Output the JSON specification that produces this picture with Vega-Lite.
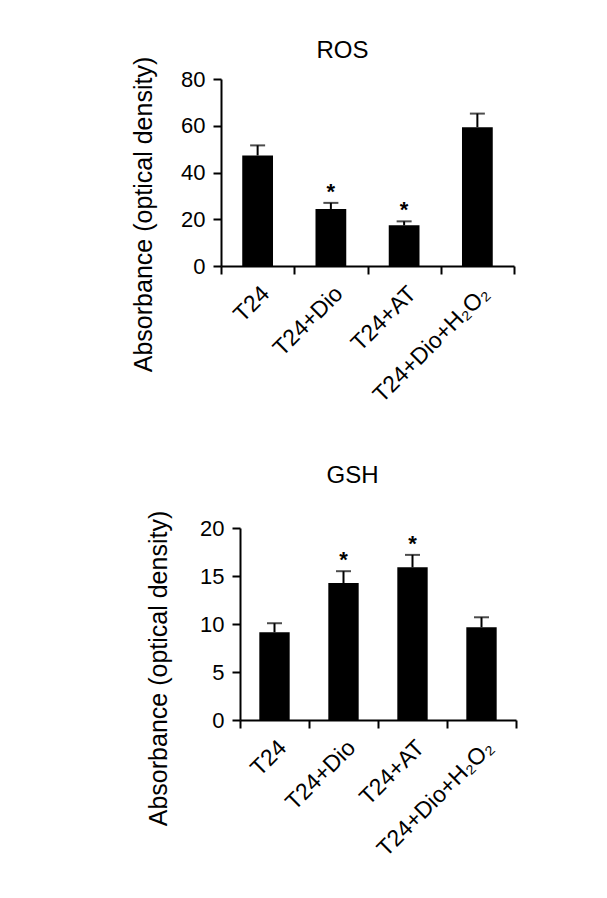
{
  "$schema": "https://vega.github.io/schema/vega-lite/v6.json",
  "background": "white",
  "padding": {"left": 130, "top": 39, "right": 5, "bottom": 5},
  "config": {
    "font": "Liberation Sans",
    "view": {"stroke": null},
    "axis": {
      "domainColor": "black", "domainWidth": 2, "tickColor": "black", "tickWidth": 2, "tickSize": 8,
      "labelColor": "black", "titleColor": "black", "labelFont": "Liberation Sans", "titleFont": "Liberation Sans",
      "grid": false, "titleFontWeight": "normal"
    },
    "title": {"fontSize": 24, "fontWeight": "normal", "color": "black", "font": "Liberation Sans", "baseline": "alphabetic"}
  },
  "datasets": {
    "ros": [
      {"group": "T24", "value": 47.3, "err": 51.6, "star": ""},
      {"group": "T24+Dio", "value": 24.4, "err": 27.0, "star": "*"},
      {"group": "T24+AT", "value": 17.4, "err": 19.1, "star": "*"},
      {"group": "T24+Dio+H₂O₂", "value": 59.4, "err": 65.2, "star": ""}
    ],
    "gsh": [
      {"group": "T24", "value": 9.14, "err": 10.08, "star": ""},
      {"group": "T24+Dio", "value": 14.26, "err": 15.5, "star": "*"},
      {"group": "T24+AT", "value": 15.9, "err": 17.2, "star": "*"},
      {"group": "T24+Dio+H₂O₂", "value": 9.66, "err": 10.7, "star": ""}
    ]
  },
  "concat": [
    {
      "width": 293, "height": 187,
      "title": {"text": "ROS", "dx": -25, "offset": -7},
      "data": {"name": "ros"},
      "encoding": {
        "x": {"field": "group", "type": "nominal", "sort": null,
          "scale": {"paddingInner": 0, "paddingOuter": 0},
          "axis": {"title": null, "labelAngle": -45, "labelFontSize": 23, "tickBand": "extent", "labelPadding": 8}}
      },
      "layer": [
        {"mark": {"type": "bar", "color": "black", "width": {"band": 0.42}},
         "encoding": {"y": {"field": "value", "type": "quantitative",
           "scale": {"domain": [0, 80], "nice": false},
           "axis": {"values": [0, 20, 40, 60, 80], "title": "Absorbance (optical density)", "titleFontSize": 25,
             "titleX": -70, "titleY": 135, "titleAngle": -90, "titleAlign": "center", "titleBaseline": "alphabetic",
             "labelFontSize": 22, "labelPadding": 8}}}},
        {"mark": {"type": "rule", "color": "black", "strokeWidth": 2},
         "encoding": {"y": {"field": "value", "type": "quantitative"}, "y2": {"field": "err"}}},
        {"mark": {"type": "tick", "color": "black", "thickness": 2, "size": 15},
         "encoding": {"y": {"field": "err", "type": "quantitative"}}},
        {"mark": {"type": "text", "fontSize": 22, "fontWeight": "bold", "baseline": "alphabetic", "dy": -4, "color": "black"},
         "encoding": {"y": {"field": "err", "type": "quantitative"}, "text": {"field": "star"}}}
      ]
    },
    {
      "width": 295, "height": 192,
      "title": {"text": "GSH", "dx": -16, "offset": 22},
      "data": {"name": "gsh"},
      "encoding": {
        "x": {"field": "group", "type": "nominal", "sort": null,
          "scale": {"paddingInner": 0, "paddingOuter": 0, "range": [19, 295]},
          "axis": {"title": null, "labelAngle": -45, "labelFontSize": 23, "tickBand": "extent", "labelPadding": 8}}
      },
      "layer": [
        {"mark": {"type": "bar", "color": "black", "width": {"band": 0.44}},
         "encoding": {"y": {"field": "value", "type": "quantitative",
           "scale": {"domain": [0, 20], "nice": false},
           "axis": {"values": [0, 5, 10, 15, 20], "title": "Absorbance (optical density)", "titleFontSize": 25, "offset": -19,
             "titleX": -74, "titleY": 140, "titleAngle": -90, "titleAlign": "center", "titleBaseline": "alphabetic",
             "labelFontSize": 22, "labelPadding": 8}}}},
        {"mark": {"type": "rule", "color": "black", "strokeWidth": 2},
         "encoding": {"y": {"field": "value", "type": "quantitative"}, "y2": {"field": "err"}}},
        {"mark": {"type": "tick", "color": "black", "thickness": 2, "size": 15},
         "encoding": {"y": {"field": "err", "type": "quantitative"}}},
        {"mark": {"type": "text", "fontSize": 22, "fontWeight": "bold", "baseline": "alphabetic", "dy": -4, "color": "black"},
         "encoding": {"y": {"field": "err", "type": "quantitative"}, "text": {"field": "star"}}}
      ]
    }
  ],
  "columns": 1,
  "align": "none",
  "spacing": 57
}
